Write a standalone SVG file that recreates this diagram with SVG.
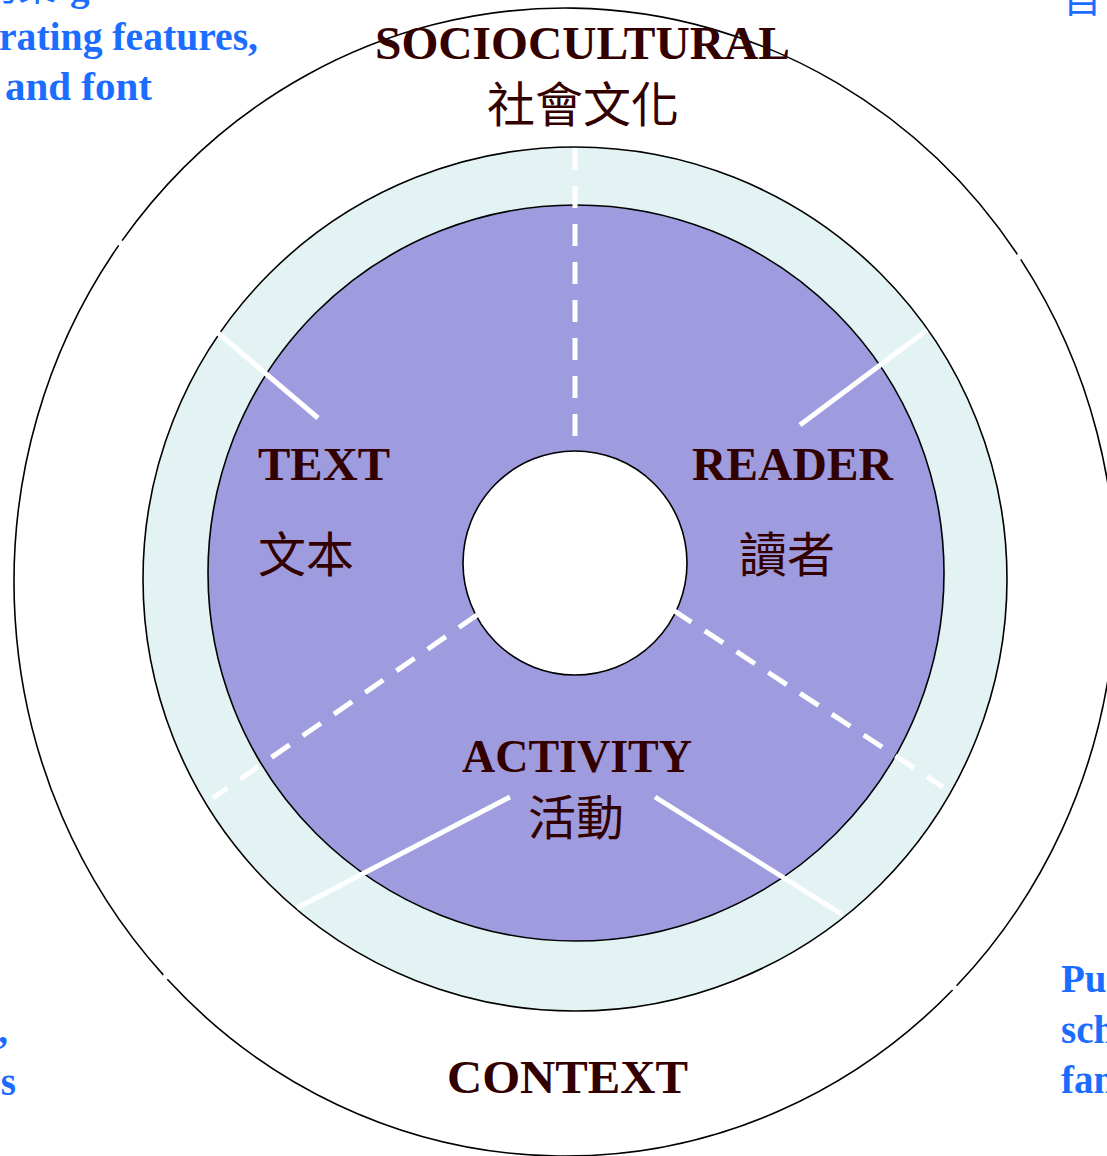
<svg xmlns="http://www.w3.org/2000/svg" width="1107" height="1156" viewBox="0 0 1107 1156">
<style>
.outline{stroke:#000;stroke-width:1.6;}
.lbl{font-family:"Liberation Serif","Times New Roman",serif;font-weight:bold;font-size:47px;fill:#330000;}
.cjk{font-family:"Noto Sans CJK TC","Noto Sans CJK SC",sans-serif;font-size:48px;fill:#330000;}
.note{font-family:"Liberation Serif","Times New Roman",serif;font-weight:bold;font-size:39px;fill:#1a6dff;}
.notecjk{font-family:"Noto Sans CJK TC",sans-serif;font-size:38px;fill:#1a6dff;}
.solid{stroke:#fff;stroke-width:5;fill:none;}
.dash{stroke:#fff;stroke-width:5;fill:none;stroke-dasharray:22 16;}
</style>
<rect width="1107" height="1156" fill="#fff"/>
<g id="context-outer" fill="none" class="outline">
<path d="M122.1 240.6 A551 574 0 0 1 1017.4 254.4"/>
<path d="M1020.7 259.4 A551 574 0 0 1 956.6 985.8"/>
<path d="M952.6 990 A551 574 0 0 1 167.3 979.3"/>
<path d="M163.3 974.9 A551 574 0 0 1 118.7 245.4"/>
</g>
<g id="sociocultural-ring">
<circle cx="575" cy="579" r="432" fill="#e3f3f3" class="outline"/>
</g>
<g id="disk">
<circle cx="576" cy="573" r="368" fill="#9e9cde" class="outline"/>
</g>
<g id="hub">
<circle cx="575" cy="563" r="112" fill="#fff" class="outline"/>
</g>
<g id="connectors">
<line class="solid" x1="218" y1="333" x2="318" y2="418"/>
<line class="solid" x1="927" y1="330" x2="800" y2="425"/>
<line class="solid" x1="297" y1="908" x2="510" y2="797"/>
<line class="solid" x1="655" y1="797" x2="843" y2="915"/>
<line class="dash" x1="575" y1="148" x2="575" y2="451"/>
<line class="dash" x1="477" y1="615" x2="213" y2="798"/>
<line class="dash" x1="673" y1="610" x2="943" y2="787"/>
</g>
<g id="label-sociocultural">
<text class="lbl" x="375" y="59" textLength="415" lengthAdjust="spacingAndGlyphs">SOCIOCULTURAL</text>
<text class="cjk" x="583" y="122" text-anchor="middle">社會文化</text>
</g>
<g id="label-text">
<text class="lbl" x="258" y="480" textLength="132" lengthAdjust="spacingAndGlyphs">TEXT</text>
<text class="cjk" x="258" y="572">文本</text>
</g>
<g id="label-reader">
<text class="lbl" x="692" y="480" textLength="201" lengthAdjust="spacingAndGlyphs">READER</text>
<text class="cjk" x="739" y="572">讀者</text>
</g>
<g id="label-activity">
<text class="lbl" x="462" y="772" textLength="230" lengthAdjust="spacingAndGlyphs">ACTIVITY</text>
<text class="cjk" x="528" y="835">活動</text>
</g>
<g id="label-context">
<text class="lbl" x="447" y="1093" textLength="241" lengthAdjust="spacingAndGlyphs">CONTEXT</text>
</g>
<g id="note-top-left">
<text class="notecjk" x="-20" y="0">的策</text>
<text class="note" x="70" y="0">g</text>
<text class="note" x="-1" y="50" textLength="259" lengthAdjust="spacingAndGlyphs">rating features,</text>
<text class="note" x="5" y="100" textLength="147" lengthAdjust="spacingAndGlyphs">and font</text>
</g>
<g id="note-top-right">
<text class="notecjk" x="1063" y="12">自</text>
</g>
<g id="note-bottom-left">
<text class="note" x="8" y="1043" text-anchor="end">,</text>
<text class="note" x="16" y="1095" text-anchor="end">s</text>
</g>
<g id="note-bottom-right">
<text class="note" x="1061" y="992">Pu</text>
<text class="note" x="1061" y="1043">sch</text>
<text class="note" x="1061" y="1093">fam</text>
</g>
</svg>
